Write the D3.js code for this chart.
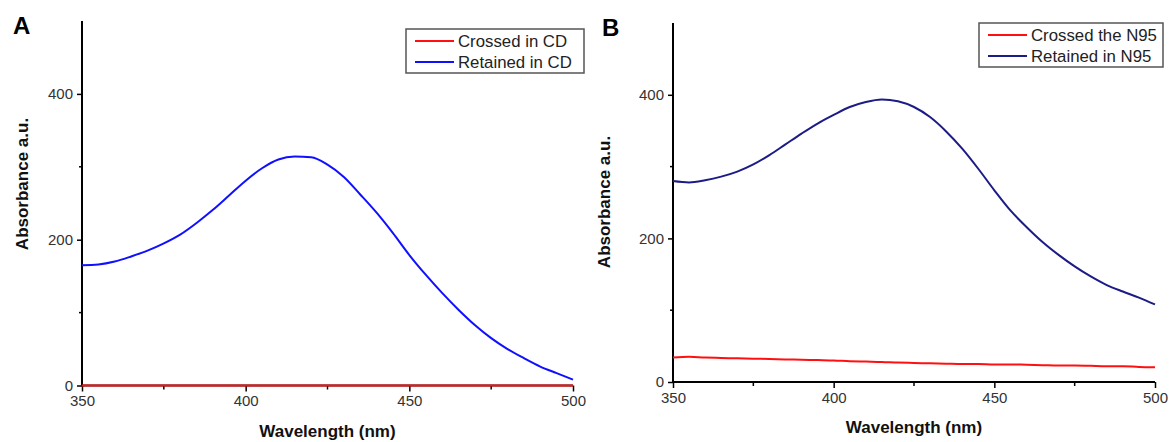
<!DOCTYPE html>
<html>
<head>
<meta charset="utf-8">
<script src="https://cdn.jsdelivr.net/npm/d3@7"></script>
<style>
  body { margin: 0; background: #fff; }
  text { font-family: "Liberation Sans", Arial, sans-serif; }
</style>
</head>
<body>
<div id="chart"></div>
<script>
// wavelength grid (nm)
var wavelengths = [350, 355, 360, 365, 370, 375, 380, 385, 390, 395, 400, 405, 410, 415, 420, 425,
  430, 435, 440, 445, 450, 455, 460, 465, 470, 475, 480, 485, 490, 495, 500];

// panel A
var retainedCD = [165, 166, 170, 177, 185, 195, 207, 223, 241, 261, 281, 298, 310, 314, 313, 303,
  286, 262, 237, 209, 179, 152, 127, 104, 83, 65, 50, 37.5, 26, 17, 8];
var crossedCD = [0, 0, 0, 0, 0, 0, 0, 0, 0, 0, 0, 0, 0, 0, 0, 0,
  0, 0, 0, 0, 0, 0, 0, 0, 0, 0, 0, 0, 0, 0, 0];

// panel B
var retainedN95 = [280, 278, 281, 286, 293, 303, 316, 331, 346, 360, 372, 383, 390, 393.5, 391, 383,
  369, 349, 325, 297, 267, 239, 216, 195, 177, 161, 147, 135, 126, 117.6, 108];
var crossedN95 = [34, 35, 34, 33.5, 33, 32.5, 32, 31.5, 31, 30.5, 30, 29, 28.5, 28, 27, 26.5,
  26, 25.5, 25, 25, 24.5, 24.5, 24, 23.5, 23, 23, 22.5, 22, 22, 21, 20.5];

var xTicks = [350, 400, 450, 500];
var xMinor = [375, 425, 475];
var yTicks = [0, 200, 400];
var yMinor = [100, 300];

const width = 1169
const height = 442

const svg = d3.select("#chart")
  .append("svg")
  .attr("width", width)
  .attr("height", height)

function drawPanel(opt) {
  const g = svg.append("g")

  const x = d3.scaleLinear().domain([350, 500]).range([opt.left, opt.right])
  const y = d3.scaleLinear().domain([0, 500]).range([opt.bottom, opt.top])

  // axes
  const xAxis = d3.axisBottom(x).tickValues(xTicks).tickSize(6).tickPadding(4)
  const yAxis = d3.axisLeft(y).tickValues(yTicks).tickSize(5).tickPadding(4)

  const gx = g.append("g")
    .attr("transform", `translate(0,${opt.bottom})`)
    .call(xAxis)
  const gy = g.append("g")
    .attr("transform", `translate(${opt.left},0)`)
    .call(yAxis)

  ;[gx, gy].forEach(a => {
    a.select(".domain").attr("stroke", "#000").attr("stroke-width", 2)
    a.selectAll(".tick line").attr("stroke", "#000").attr("stroke-width", 1.5)
    a.selectAll(".tick text")
      .attr("fill", "#333")
      .style("font-size", "15px")
      .style("font-family", "'Liberation Sans', Arial, sans-serif")
  })
  gy.select(".domain").attr("d", `M0,${opt.bottom}V${opt.top}`)
  gx.select(".domain").attr("d", `M${opt.left},0H${opt.right}`)

  // minor ticks
  g.selectAll("xminor")
    .data(xMinor)
    .join("line")
    .attr("x1", d => x(d)).attr("x2", d => x(d))
    .attr("y1", opt.bottom).attr("y2", opt.bottom + 4)
    .attr("stroke", "#000").attr("stroke-width", 1.5)
  g.selectAll("yminor")
    .data(yMinor)
    .join("line")
    .attr("y1", d => y(d)).attr("y2", d => y(d))
    .attr("x1", opt.left).attr("x2", opt.left - 3)
    .attr("stroke", "#000").attr("stroke-width", 1.5)

  // lines
  const line = d3.line()
    .x((d, i) => x(wavelengths[i]))
    .y(d => y(d))
    .curve(d3.curveMonotoneX)

  opt.series.forEach(s => {
    g.append("path")
      .attr("d", line(s.values))
      .attr("fill", "none")
      .attr("stroke", s.color)
      .attr("stroke-width", 2)
  })

  // panel letter
  g.append("text")
    .attr("x", opt.letterX)
    .attr("y", opt.top + 13)
    .text(opt.letter)
    .style("font-size", "24px")
    .style("font-weight", "bold")
    .attr("fill", "#000")

  // axis titles
  g.append("text")
    .attr("x", (opt.left + opt.right) / 2)
    .attr("y", opt.bottom + 51)
    .attr("text-anchor", "middle")
    .text("Wavelength (nm)")
    .style("font-size", "17px")
    .style("font-weight", "bold")
    .attr("fill", "#111")

  g.append("text")
    .attr("transform", `translate(${opt.yTitleX},${opt.yTitleY}) rotate(-90)`)
    .attr("text-anchor", "middle")
    .text("Absorbance a.u.")
    .style("font-size", "17px")
    .style("font-weight", "bold")
    .attr("fill", "#111")

  // legend
  const lg = g.append("g").attr("transform", `translate(${opt.legend[0]},${opt.legend[1]})`)
  lg.append("rect")
    .attr("width", opt.legend[2]).attr("height", 44)
    .attr("fill", "#fff")
    .attr("stroke", "#555").attr("stroke-width", 1.5)
  opt.series.forEach((s, i) => {
    const yy = 12 + i * 21
    lg.append("line")
      .attr("x1", 9).attr("x2", 48)
      .attr("y1", yy).attr("y2", yy)
      .attr("stroke", s.color).attr("stroke-width", 2)
    lg.append("text")
      .attr("x", 52).attr("y", yy + 6)
      .text(s.name)
      .style("font-size", "16.8px")
      .attr("fill", "#222")
  })
}

drawPanel({
  left: 82, right: 573, top: 21, bottom: 385.5,
  letter: "A", letterX: 13,
  yTitleX: 28, yTitleY: 184,
  legend: [406, 29, 178],
  series: [
    {name: "Crossed in CD", values: crossedCD, color: "#ff1010"},
    {name: "Retained in CD", values: retainedCD, color: "#1010ff"}
  ]
})

drawPanel({
  left: 673, right: 1155, top: 23, bottom: 382,
  letter: "B", letterX: 602,
  yTitleX: 610, yTitleY: 202,
  legend: [979, 23, 184],
  series: [
    {name: "Crossed the N95", values: crossedN95, color: "#ff1010"},
    {name: "Retained in N95", values: retainedN95, color: "#1c1c86"}
  ]
})
</script>
</body>
</html>
